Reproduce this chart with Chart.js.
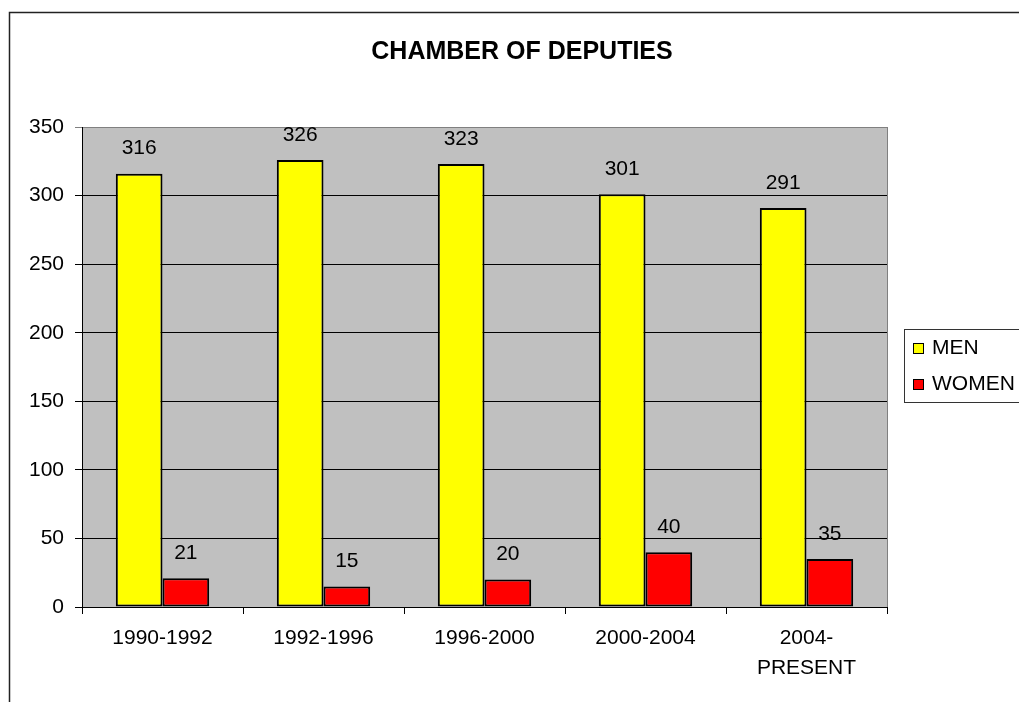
<!DOCTYPE html>
<html lang="en">
<head>
    <meta charset="UTF-8">
    <title>Chamber of Deputies</title>
    <script src="https://cdn.jsdelivr.net/npm/chart.js@4.4.1/dist/chart.umd.min.js"></script>
    <style>
        html, body { margin: 0; padding: 0; background: #fff; }
        canvas { display: block; }
    </style>
</head>
<body>
<canvas id="chart" width="1019" height="702"></canvas>

<script type="text/javascript">
    // data
    var periods = ['1990-1992', '1992-1996', '1996-2000', '2000-2004', ['2004-', 'PRESENT']];
    var men = [316, 326, 323, 301, 291];
    var women = [21, 15, 20, 40, 35];
    var yTicks = [0, 50, 100, 150, 200, 250, 300, 350];
    var chartTitle = 'CHAMBER OF DEPUTIES';

    var FONT = '"Liberation Sans", Arial, sans-serif';

    // grey plot area, outer frame and title (centred on the whole chart object, not the plot)
    var plotBack = {
        id: 'plotBack',
        beforeDraw: function (chart) {
            var ctx = chart.ctx, a = chart.chartArea;
            ctx.save();
            ctx.fillStyle = '#C0C0C0';
            ctx.fillRect(a.left, a.top, a.right - a.left, a.bottom - a.top);
            ctx.strokeStyle = '#808080';
            ctx.lineWidth = 1;
            ctx.strokeRect(a.left + 0.5, a.top + 0.5, a.right - a.left, a.bottom - a.top);
            ctx.strokeStyle = '#222';
            ctx.lineWidth = 1.5;
            ctx.beginPath();
            ctx.moveTo(9.5, chart.height);
            ctx.lineTo(9.5, 12.5);
            ctx.lineTo(chart.width, 12.5);
            ctx.stroke();
            ctx.font = 'bold 25px ' + FONT;
            ctx.fillStyle = '#000';
            ctx.textAlign = 'center';
            ctx.textBaseline = 'middle';
            ctx.fillText(chartTitle, 522, 52);
            ctx.restore();
        }
    };

    // numbers above the bars
    var valueLabels = {
        id: 'valueLabels',
        afterDatasetsDraw: function (chart) {
            var ctx = chart.ctx;
            ctx.save();
            ctx.font = '21px ' + FONT;
            ctx.fillStyle = '#000';
            ctx.textAlign = 'center';
            ctx.textBaseline = 'middle';
            chart.data.datasets.forEach(function (ds, i) {
                chart.getDatasetMeta(i).data.forEach(function (bar, j) {
                    ctx.fillText(ds.data[j], bar.x, bar.y - 25);
                });
            });
            ctx.restore();
        }
    };

    // boxed legend on the right, cut by the page edge like the original
    var boxLegend = {
        id: 'boxLegend',
        afterDraw: function (chart) {
            var ctx = chart.ctx;
            var x = 904.5, y = 329.5;
            ctx.save();
            ctx.strokeStyle = '#333';
            ctx.lineWidth = 1;
            ctx.strokeRect(x, y, 140, 73);
            ctx.font = '21px ' + FONT;
            ctx.textBaseline = 'middle';
            chart.data.datasets.forEach(function (ds, i) {
                var cy = 348 + i * 36;
                ctx.fillStyle = ds.backgroundColor;
                ctx.fillRect(913, cy - 5, 11, 11);
                ctx.strokeStyle = '#000';
                ctx.strokeRect(913.5, cy - 4.5, 10, 10);
                ctx.fillStyle = '#000';
                ctx.fillText(ds.label, 932, cy);
            });
            ctx.restore();
        }
    };

    new Chart(document.getElementById('chart').getContext('2d'), {
        type: 'bar',
        data: {
            labels: periods,
            datasets: [
                {
                    label: 'MEN',
                    data: men,
                    backgroundColor: '#FFFF00',
                    borderColor: '#000',
                    borderWidth: 2,
                    borderSkipped: false
                },
                {
                    label: 'WOMEN',
                    data: women,
                    backgroundColor: '#FF0000',
                    borderColor: '#000',
                    borderWidth: 2,
                    borderSkipped: false
                }
            ]
        },
        options: {
            responsive: false,
            animation: false,
            events: [],
            categoryPercentage: 0.58,
            barPercentage: 1.0,
            layout: {padding: {left: 10, top: 127, right: 132, bottom: 0}},
            plugins: {
                legend: {display: false},
                tooltip: {enabled: false},
                title: {display: false}
            },
            scales: {
                x: {
                    grid: {
                        offset: true,
                        drawOnChartArea: false,
                        drawTicks: true,
                        tickLength: 7,
                        color: '#000'
                    },
                    border: {color: '#000', width: 1},
                    ticks: {
                        color: '#000',
                        padding: 10,
                        maxRotation: 0,
                        font: {family: FONT, size: 21, lineHeight: 1.4}
                    },
                    afterFit: function (scale) { scale.height = 95; }
                },
                y: {
                    min: 0,
                    max: 350,
                    afterBuildTicks: function (scale) {
                        scale.ticks = yTicks.map(function (v) { return {value: v}; });
                    },
                    grid: {
                        tickLength: 7,
                        color: function (c) { return c.tick && c.tick.value === 350 ? '#808080' : '#000'; }
                    },
                    border: {color: '#000', width: 1},
                    ticks: {
                        color: '#000',
                        padding: 11,
                        font: {family: FONT, size: 21}
                    },
                    afterFit: function (scale) { scale.width = 72; }
                }
            }
        },
        plugins: [plotBack, valueLabels, boxLegend]
    });
</script>
</body>
</html>
